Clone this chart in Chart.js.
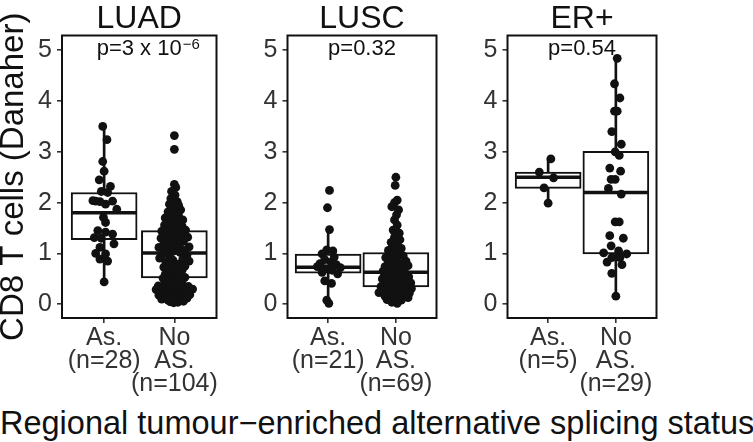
<!DOCTYPE html>
<html>
<head>
<meta charset="utf-8">
<script src="https://cdn.jsdelivr.net/npm/chart.js@4.4.1/dist/chart.umd.min.js"></script>
<style>
  html, body { margin: 0; padding: 0; background: #fff; }
  #wrap { position: relative; width: 753px; height: 442px; overflow: hidden; }
  canvas { position: absolute; top: 0; }
  #xtitle {
    position: absolute; left: 0; top: 407px; width: 753px;
    text-align: center; white-space: nowrap;
    font: 32.5px/32.5px 'Liberation Sans', Arial, sans-serif; color: #111;
  }
</style>
</head>
<body>
<div id="wrap">
  <canvas id="c1" width="252" height="400" style="left:0"></canvas>
  <canvas id="c2" width="220" height="400" style="left:252px"></canvas>
  <canvas id="c3" width="220" height="400" style="left:472px"></canvas>
  <div id="xtitle">Regional tumour−enriched alternative splicing status</div>
</div>
<script>
/* ─── Data ─── */
const panelTitles = ['LUAD', 'LUSC', 'ER+'];
const pValues     = ['p=3 x 10', 'p=0.32', 'p=0.54'];
const pSuper      = ['−6', '', ''];
const yTicks      = [0, 1, 2, 3, 4, 5];
const groupPos    = [1, 2];
const groupLabels = [
  [['As.', '(n=28)'], ['No', 'AS.', '(n=104)']],
  [['As.', '(n=21)'], ['No', 'AS.', '(n=69)']],
  [['As.', '(n=5)'],  ['No', 'AS.', '(n=29)']],
];

/* box stats: [lower whisker, q1, median, q3, upper whisker] */
const luadBox = [[0.44, 1.27, 1.80, 2.20, 3.50], [0.03, 0.52, 1.01, 1.45, 2.36]];
const luscBox = [[0.02, 0.61, 0.73, 0.99, 1.47], [0.02, 0.34, 0.63, 1.02, 2.05]];
const erBox   = [[1.99, 2.28, 2.50, 2.60, 2.86], [0.16, 0.99, 2.20, 3.01, 4.84]];

/* points: values + horizontal jitter (category units) */
const luadAsVals = [3.50, 3.24, 2.81, 2.62, 2.45, 2.32, 2.22, 2.20, 2.04, 2.03, 2.02, 1.97, 2.03, 1.87,
  1.71, 1.61, 1.45, 1.42, 1.38, 1.31, 1.30, 1.19, 1.12, 1.00, 0.99, 0.89, 0.85, 0.44];
const luadAsJit  = [-0.02, 0.04, -0.02, 0, -0.07, 0.09, -0.04, 0.05, -0.16, -0.12, -0.06, 0.02, 0.12, 0.18,
  -0.01, 0.02, -0.09, 0.02, 0.12, -0.14, -0.04, 0.14, -0.06, -0.12, 0.02, -0.06, 0.05, 0];

const luadNoVals = [3.32, 3.05,
  2.36, 2.30, 2.22, 2.15, 2.08, 2.02,
  1.97, 1.95, 1.90, 1.86, 1.82, 1.80,
  1.76, 1.74, 1.70, 1.68, 1.66, 1.63, 1.61,
  1.58, 1.56, 1.54, 1.50, 1.48, 1.46, 1.44, 1.42,
  1.39, 1.37, 1.34, 1.32, 1.30, 1.28, 1.26, 1.24, 1.22,
  1.19, 1.17, 1.15, 1.13, 1.12, 1.10, 1.08, 1.06, 1.04, 1.02,
  0.99, 0.97, 0.95, 0.91, 0.89, 0.87, 0.85, 0.83,
  0.79, 0.77, 0.75, 0.73, 0.71, 0.69, 0.67, 0.64,
  0.59, 0.57, 0.55, 0.53, 0.51, 0.49, 0.47, 0.45, 0.42,
  0.39, 0.38, 0.36, 0.35, 0.34, 0.33, 0.31, 0.30, 0.29, 0.28, 0.27, 0.25, 0.24, 0.22, 0.21, 0.20,
  0.19, 0.18, 0.16, 0.15, 0.14, 0.13, 0.12, 0.10, 0.09, 0.08, 0.07, 0.06, 0.05, 0.04, 0.03];
const luadNoJit  = [0, 0,
  0, 0.02, -0.04, 0.01, -0.05, 0.04,
  -0.07, 0.06, -0.02, 0.09, -0.09, 0.02,
  -0.06, 0.06, -0.13, 0.01, 0.12, -0.07, 0.07,
  -0.02, -0.14, 0.11, 0.04, -0.08, 0.16, -0.18, 0.01,
  -0.11, 0.09, -0.04, 0.19, -0.19, 0.05, -0.09, 0.13, -0.01,
  -0.15, 0.07, -0.06, 0.21, -0.22, 0.02, -0.12, 0.13, -0.02, 0.08,
  -0.16, 0.18, -0.07, -0.21, 0.12, -0.02, 0.21, -0.12,
  0.06, -0.06, 0.15, -0.15, 0.01, -0.09, 0.11, -0.01,
  -0.13, 0.07, -0.04, 0.15, -0.16, 0.02, -0.08, 0.11, -0.02,
  -0.14, 0.09, -0.23, 0.20, -0.05, 0.04, -0.16, 0.26, -0.26, 0.12, -0.08, 0.18, -0.19, -0.01, 0.08, -0.11,
  0.22, -0.22, 0.14, -0.14, 0.05, -0.05, 0.18, -0.18, 0.09, -0.09, 0, 0.13, -0.06, 0.05, -0.01];

const luscAsVals = [2.24, 1.90, 1.47, 1.07, 1.05, 0.99, 0.93, 0.88, 0.83, 0.80, 0.78, 0.74, 0.72, 0.70,
  0.67, 0.63, 0.60, 0.46, 0.41, 0.08, 0.02];
const luscAsJit  = [0.02, -0.01, 0.02, -0.02, 0.07, -0.09, 0.09, -0.05, 0.04, -0.12, 0.12, -0.16, 0.18, -0.04,
  0.06, -0.09, 0.14, -0.05, 0.05, -0.02, 0.01];

const luscNoVals = [2.50, 2.34, 2.05, 2.00, 1.92, 1.86, 1.76, 1.66, 1.56, 1.46, 1.40,
  1.32, 1.27, 1.22, 1.18,
  1.13, 1.10, 1.06, 1.03,
  0.98, 0.95, 0.92, 0.90, 0.87, 0.85, 0.82, 0.80,
  0.78, 0.76, 0.74, 0.72, 0.70, 0.67, 0.65, 0.63, 0.61,
  0.58, 0.56, 0.54, 0.52, 0.50, 0.48, 0.46, 0.44, 0.42, 0.41,
  0.39, 0.37, 0.35, 0.34, 0.32, 0.31, 0.29, 0.28, 0.26, 0.25, 0.23, 0.22,
  0.19, 0.18, 0.16, 0.14, 0.13, 0.11, 0.09, 0.08, 0.06, 0.04, 0.02];
const luscNoJit  = [0, -0.01, 0.02, -0.02, -0.06, 0.04, 0.01, -0.02, 0.02, -0.04, 0.05,
  -0.02, 0.06, -0.07, 0.02,
  -0.04, 0.08, -0.11, 0.02,
  -0.06, 0.11, -0.15, 0.01, -0.05, 0.15, -0.11, 0.06,
  -0.02, 0.18, -0.16, 0.08, -0.07, 0.02, -0.19, 0.13, -0.04,
  0.07, -0.12, 0.19, -0.01, -0.20, 0.11, -0.07, 0.02, 0.22, -0.15,
  -0.04, 0.12, -0.22, 0.05, -0.11, 0.23, 0.15, -0.18, -0.02, 0.07, -0.25, 0.20,
  -0.08, 0.12, -0.16, 0.04, 0.18, -0.05, -0.13, 0.08, 0, -0.06, 0.02];

const erAsVals = [2.86, 2.60, 2.49, 2.29, 1.99];
const erAsJit  = [0.04, -0.13, 0.08, -0.06, 0];

const erNoVals = [4.84, 4.34, 4.06, 3.80, 3.80, 3.40, 3.15, 3.00, 2.93, 2.68, 2.62, 2.46, 2.46, 2.28, 2.17,
  1.62, 1.62, 1.35, 1.30, 1.15, 1.05, 1.01, 0.99, 0.92, 0.92, 0.83, 0.78, 0.61, 0.16];
const erNoJit  = [0.02, -0.02, 0.06, -0.02, 0.02, -0.06, 0.08, -0.01, 0.05, -0.09, 0.07, -0.07, -0.01, -0.11, 0.08,
  -0.01, 0.05, -0.09, 0.11, -0.07, 0.04, -0.18, 0.16, -0.06, 0.06, -0.13, 0.09, -0.06, 0];

/* ─── Style ─── */
const FONT  = "'Liberation Sans', Arial, Helvetica, sans-serif";
const INK   = '#111';
const AXIS  = '#333';
Chart.defaults.font.family = FONT;

/* frame, panel title and p value, placed on the plot area */
const panelDecor = {
  id: 'panelDecor',
  afterDraw(chart, args, o) {
    const { ctx, chartArea: a } = chart;
    const cx = (a.left + a.right) / 2;
    ctx.save();
    ctx.lineWidth = 2;
    ctx.strokeStyle = INK;
    ctx.strokeRect(a.left, a.top, a.right - a.left, a.bottom - a.top);

    ctx.fillStyle = INK;
    ctx.textBaseline = 'alphabetic';
    ctx.textAlign = 'center';
    ctx.font = `32px ${FONT}`;
    ctx.fillText(o.title, cx, a.top - 7.5);

    ctx.textAlign = 'left';
    ctx.font = `22px ${FONT}`;
    const w1 = ctx.measureText(o.p).width;
    ctx.font = `15px ${FONT}`;
    const w2 = o.sup ? ctx.measureText(o.sup).width + 1 : 0;
    const x0 = cx - (w1 + w2) / 2 + (o.sup ? 9 : 0);
    ctx.font = `22px ${FONT}`;
    ctx.fillText(o.p, x0, a.top + 19.5);
    if (o.sup) {
      ctx.font = `15px ${FONT}`;
      ctx.fillText(o.sup, x0 + w1 + 1, a.top + 13);
    }
    ctx.restore();
  },
};

function makePanel(id, k, boxes, groups, yAxisW, yTitle) {
  const whiskers = {
    type: 'bar', order: 3, grouped: false,
    data: boxes.map((b, i) => ({ x: groupPos[i], y: [b[0], b[4]] })),
    barThickness: 2, backgroundColor: INK,
  };
  const boxBars = {
    type: 'bar', order: 2, grouped: false,
    data: boxes.map((b, i) => ({ x: groupPos[i], y: [b[1], b[3]] })),
    barThickness: 66, backgroundColor: '#fff',
    borderColor: INK, borderWidth: 2, borderSkipped: false,
  };
  const medians = {
    type: 'scatter', order: 1,
    data: boxes.map((b, i) => ({ x: groupPos[i], y: b[2] })),
    pointStyle: 'line', pointRadius: 32, borderColor: INK, borderWidth: 3.5,
  };
  const points = groups.map((g, i) => ({
    type: 'scatter', order: 0,
    data: g.vals.map((v, j) => ({ x: groupPos[i] + g.jit[j], y: v })),
    pointRadius: 4.4, backgroundColor: INK, borderWidth: 0,
  }));

  const gridOpts = { drawOnChartArea: false, drawTicks: true, tickLength: 5, color: AXIS, lineWidth: 1.6, offset: false };

  return new Chart(document.getElementById(id), {
    type: 'scatter',
    data: { datasets: [whiskers, boxBars, medians, ...points] },
    plugins: [panelDecor],
    options: {
      responsive: false,
      maintainAspectRatio: false,
      animation: false,
      events: [],
      layout: { padding: { top: 33, right: 2, left: 0, bottom: 0 } },
      plugins: {
        legend: { display: false },
        tooltip: { enabled: false },
        panelDecor: { title: panelTitles[k], p: pValues[k], sup: pSuper[k] },
      },
      scales: {
        x: {
          type: 'linear', min: 0.4, max: 2.6, offset: false,
          afterBuildTicks: (s) => { s.ticks = groupPos.map(v => ({ value: v })); },
          afterFit: (s) => { s.height = 82; },
          grid: gridOpts,
          border: { display: false },
          ticks: {
            autoSkip: false, maxRotation: 0, minRotation: 0, padding: 3, color: AXIS,
            font: { size: 25, lineHeight: 0.93 },
            callback: (v, i) => groupLabels[k][i],
          },
        },
        y: {
          type: 'linear', min: -0.27, max: 5.29, beginAtZero: false,
          afterBuildTicks: (s) => { s.ticks = yTicks.map(v => ({ value: v })); },
          afterFit: (s) => { s.width = yAxisW; },
          grid: gridOpts,
          border: { display: false },
          ticks: { padding: 5, color: AXIS, font: { size: 25 }, callback: (v) => String(v) },
          title: {
            display: !!yTitle, text: yTitle || '', color: INK,
            font: { size: 33, lineHeight: 0.85 }, padding: { top: 0, bottom: 0 },
          },
        },
      },
    },
  });
}

makePanel('c1', 0, luadBox, [{ vals: luadAsVals, jit: luadAsJit }, { vals: luadNoVals, jit: luadNoJit }], 62, 'CD8 T cells (Danaher)');
makePanel('c2', 1, luscBox, [{ vals: luscAsVals, jit: luscAsJit }, { vals: luscNoVals, jit: luscNoJit }], 30);
makePanel('c3', 2, erBox,   [{ vals: erAsVals,   jit: erAsJit },   { vals: erNoVals,   jit: erNoJit }],   30);
</script>
</body>
</html>
